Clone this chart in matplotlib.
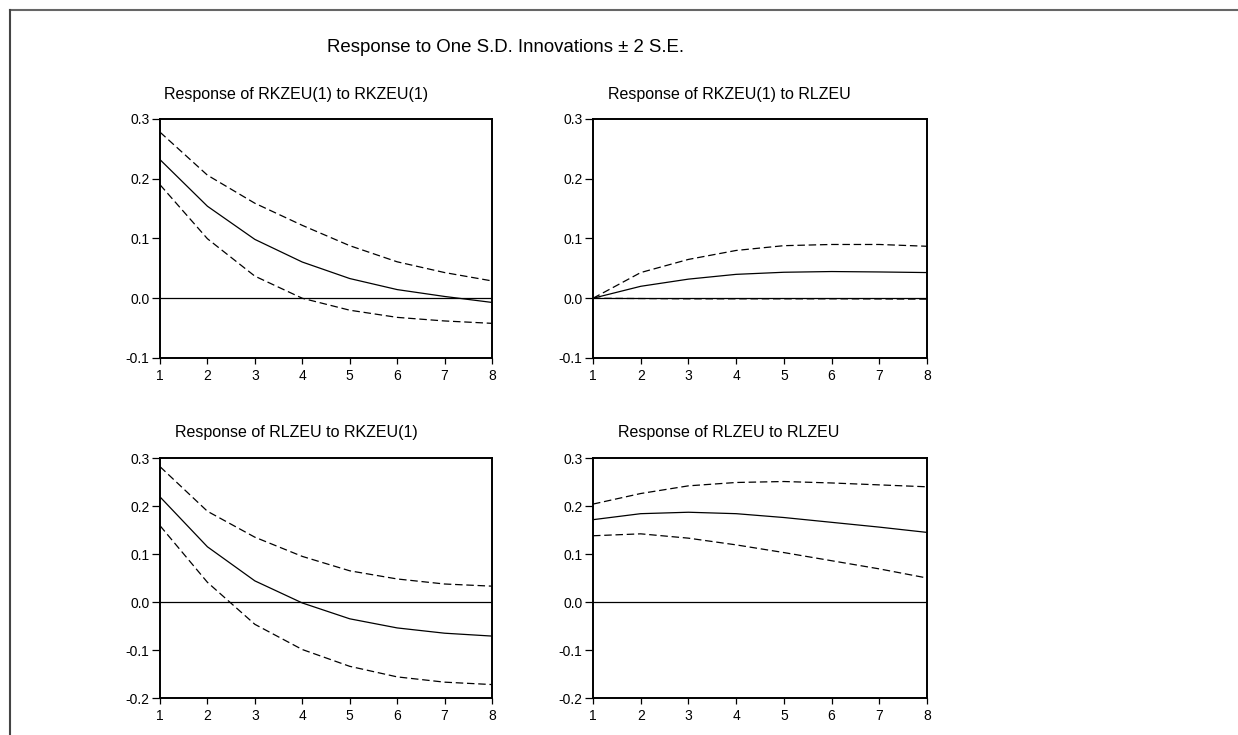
import numpy as np
import matplotlib
matplotlib.use("Agg")
from matplotlib import pyplot as plt
from matplotlib.lines import Line2D

plt.rcParams['font.family'] = ['Liberation Sans', 'DejaVu Sans']

periods = [1, 2, 3, 4, 5, 6, 7, 8]

# Response of RKZEU(1) to RKZEU(1)
kk_mid = [0.232, 0.154, 0.0985, 0.0606, 0.033, 0.0145, 0.003, -0.007]
kk_up = [0.278, 0.206, 0.159, 0.122, 0.088, 0.061, 0.043, 0.029]
kk_lo = [0.190, 0.0996, 0.037, 0.0, -0.020, -0.032, -0.038, -0.042]

# Response of RKZEU(1) to RLZEU
kl_mid = [0.0, 0.020, 0.032, 0.040, 0.0435, 0.0447, 0.044, 0.043]
kl_up = [0.0, 0.043, 0.065, 0.080, 0.088, 0.090, 0.090, 0.087]
kl_lo = [0.0, -0.0005, -0.001, -0.001, -0.001, -0.001, -0.0012, -0.0015]

# Response of RLZEU to RKZEU(1)
lk_mid = [0.219, 0.115, 0.044, -0.002, -0.035, -0.054, -0.065, -0.071]
lk_up = [0.282, 0.189, 0.135, 0.095, 0.065, 0.048, 0.0375, 0.033]
lk_lo = [0.159, 0.041, -0.0465, -0.099, -0.134, -0.156, -0.167, -0.172]

# Response of RLZEU to RLZEU
ll_mid = [0.1715, 0.184, 0.187, 0.184, 0.176, 0.166, 0.156, 0.145]
ll_up = [0.204, 0.226, 0.242, 0.249, 0.251, 0.248, 0.244, 0.240]
ll_lo = [0.138, 0.142, 0.133, 0.119, 0.103, 0.086, 0.069, 0.050]

titles = ["Response of RKZEU(1) to RKZEU(1)", "Response of RKZEU(1) to RLZEU",
          "Response of RLZEU to RKZEU(1)", "Response of RLZEU to RLZEU"]
series = [(kk_mid, kk_up, kk_lo), (kl_mid, kl_up, kl_lo),
          (lk_mid, lk_up, lk_lo), (ll_mid, ll_up, ll_lo)]
ylims = [(-0.1, 0.3), (-0.1, 0.3), (-0.2, 0.3), (-0.2, 0.3)]

W, H = 1238, 735
fig = plt.figure(figsize=(W / 100, H / 100), dpi=100)

# axes boxes in pixels: left, top, right, bottom
boxes = [(160, 119, 492, 358), (593, 119, 927, 358),
         (160, 458, 492, 698), (593, 458, 927, 698)]
title_y = [94, 94, 433, 433]

for i in range(4):
    l, t, r, b = boxes[i]
    ax = fig.add_axes([l / W, 1 - b / H, (r - l) / W, (b - t) / H])
    mid, up, lo = series[i]
    ax.axhline(0, color='black', lw=0.9)
    ax.plot(periods, mid, color='black', lw=0.9)
    ax.plot(periods, up, color='black', lw=0.9, ls=(0, (6, 3)))
    ax.plot(periods, lo, color='black', lw=0.9, ls=(0, (6, 3)))
    ax.set_xlim(1, 8)
    ax.set_ylim(*ylims[i])
    ax.set_xticks(periods)
    ax.set_yticks(np.arange(ylims[i][0], ylims[i][1] + 0.001, 0.1))
    ax.yaxis.set_major_formatter(plt.FormatStrFormatter('%.1f'))
    ax.tick_params(axis='y', direction='out', length=6, width=0.9, labelsize=10, pad=1.5)
    ax.tick_params(axis='x', direction='out', length=4, width=0.9, labelsize=10, pad=4)
    for s in ax.spines.values():
        s.set_linewidth(1.4)
    fig.text((l + 136) / W, 1 - title_y[i] / H, titles[i], ha='center', va='center', fontsize=11.5)

fig.text(505 / W, 1 - 47 / H, "Response to One S.D. Innovations \u00b1 2 S.E.",
         ha='center', va='center', fontsize=13.4)

# outer frame (top and left edges)
fig.add_artist(Line2D([9.5 / W, 1], [1 - 9.5 / H, 1 - 9.5 / H], color='#666666', lw=1.5))
fig.add_artist(Line2D([9.5 / W, 9.5 / W], [0, 1 - 9.5 / H], color='#444444', lw=1.5))

fig.savefig("out.png", dpi=100)
